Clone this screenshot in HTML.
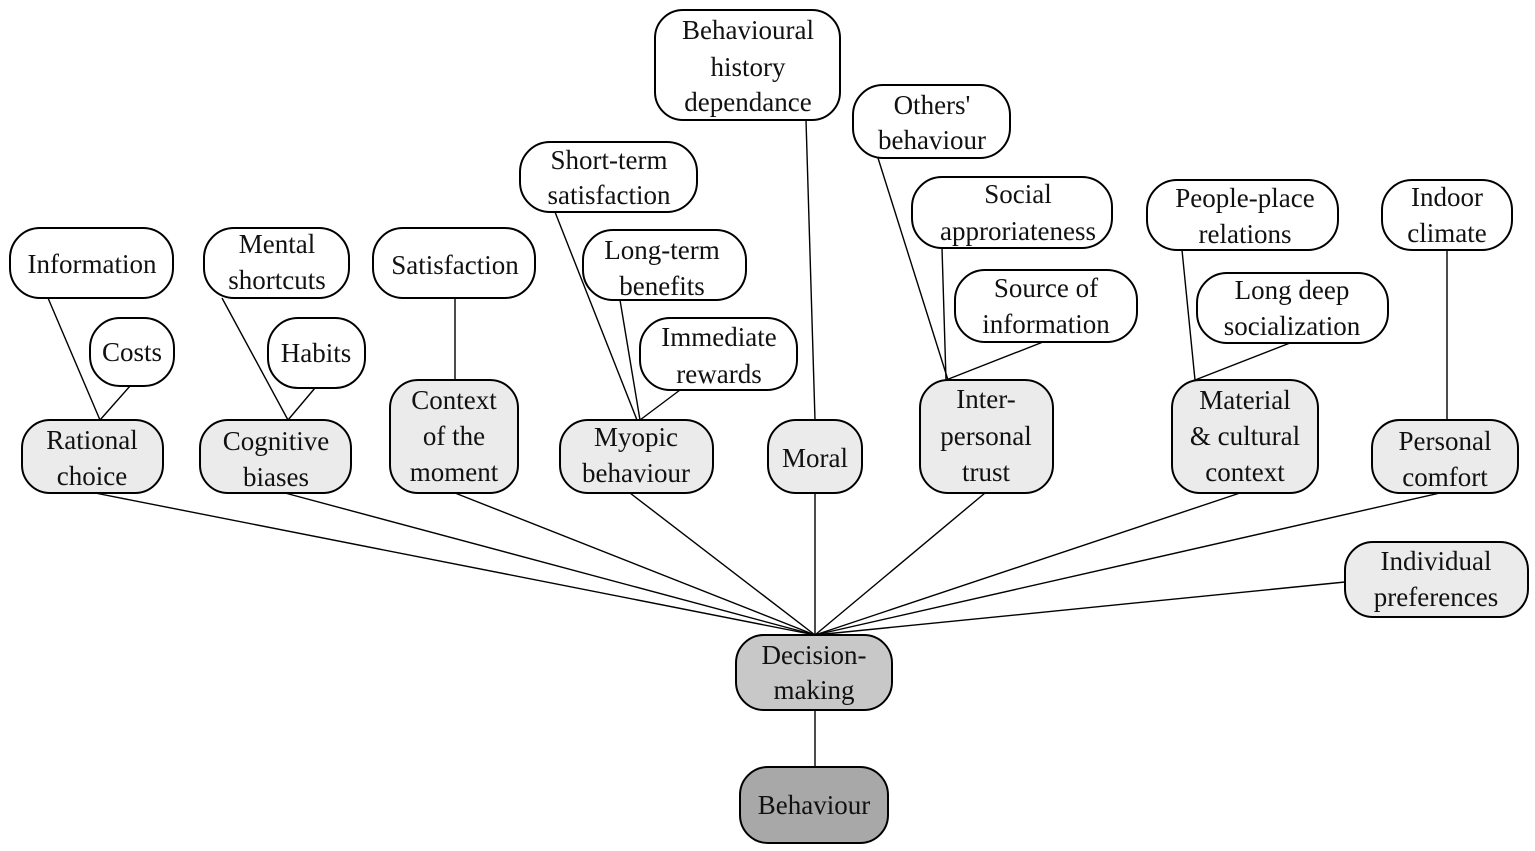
<!DOCTYPE html>
<html><head><meta charset="utf-8"><style>
html,body{margin:0;padding:0;background:#fff;}
svg{display:block;}
text{font-family:"Liberation Serif",serif;font-size:27px;fill:#111;text-anchor:middle;}
rect{stroke:#000;stroke-width:2;}
line{stroke:#000;stroke-width:1.4;}
</style></head><body>
<svg width="1535" height="851" viewBox="0 0 1535 851">
<g>
<line x1="48" y1="298" x2="100" y2="420"/><line x1="130" y1="386" x2="100" y2="420"/>
<line x1="222" y1="298" x2="288" y2="420"/><line x1="315" y1="388" x2="288" y2="420"/>
<line x1="455" y1="298" x2="455" y2="380"/>
<line x1="555" y1="212" x2="637" y2="420"/><line x1="620" y1="300" x2="640" y2="420"/><line x1="680" y1="390" x2="640" y2="420"/>
<line x1="806" y1="120" x2="815" y2="420"/>
<line x1="878" y1="158" x2="948" y2="380"/><line x1="942" y1="248" x2="946" y2="380"/><line x1="1043" y1="342" x2="946" y2="380"/>
<line x1="1182" y1="250" x2="1195" y2="380"/><line x1="1290" y1="343" x2="1195" y2="380"/>
<line x1="1447" y1="250" x2="1447" y2="420"/>
<line x1="95" y1="493" x2="815" y2="635"/>
<line x1="285" y1="493" x2="815" y2="635"/>
<line x1="455" y1="493" x2="815" y2="635"/>
<line x1="630" y1="493" x2="815" y2="635"/>
<line x1="815" y1="493" x2="815" y2="635"/>
<line x1="985" y1="493" x2="815" y2="635"/>
<line x1="1240" y1="493" x2="815" y2="635"/>
<line x1="1440" y1="493" x2="815" y2="635"/>
<line x1="1345" y1="582" x2="815" y2="635"/>
<line x1="815" y1="710" x2="815" y2="767"/>
</g>
<g fill="#fff">
<rect x="655" y="10" width="185" height="110" rx="28" fill="#fff"/>
<rect x="853" y="85" width="157" height="73" rx="30" fill="#fff"/>
<rect x="520" y="142" width="177" height="70" rx="30" fill="#fff"/>
<rect x="912" y="177" width="200" height="71" rx="30" fill="#fff"/>
<rect x="1147" y="180" width="191" height="70" rx="30" fill="#fff"/>
<rect x="1382" y="180" width="130" height="70" rx="30" fill="#fff"/>
<rect x="10" y="228" width="163" height="70" rx="30" fill="#fff"/>
<rect x="204" y="228" width="145" height="70" rx="30" fill="#fff"/>
<rect x="373" y="228" width="162" height="70" rx="30" fill="#fff"/>
<rect x="583" y="230" width="163" height="70" rx="30" fill="#fff"/>
<rect x="955" y="270" width="182" height="72" rx="30" fill="#fff"/>
<rect x="1197" y="273" width="191" height="70" rx="30" fill="#fff"/>
<rect x="90" y="318" width="84" height="68" rx="30" fill="#fff"/>
<rect x="268" y="318" width="97" height="70" rx="30" fill="#fff"/>
<rect x="640" y="318" width="157" height="72" rx="30" fill="#fff"/>
</g>
<g>
<rect x="22" y="420" width="141" height="73" rx="28" fill="#ebebeb"/>
<rect x="200" y="420" width="151" height="73" rx="28" fill="#ebebeb"/>
<rect x="390" y="380" width="128" height="113" rx="28" fill="#ebebeb"/>
<rect x="560" y="420" width="153" height="73" rx="28" fill="#ebebeb"/>
<rect x="768" y="420" width="94" height="73" rx="28" fill="#ebebeb"/>
<rect x="920" y="380" width="133" height="113" rx="28" fill="#ebebeb"/>
<rect x="1172" y="380" width="146" height="113" rx="28" fill="#ebebeb"/>
<rect x="1372" y="420" width="146" height="73" rx="28" fill="#ebebeb"/>
<rect x="1345" y="542" width="183" height="75" rx="28" fill="#ebebeb"/>
<rect x="736" y="635" width="156" height="75" rx="28" fill="#c8c8c8"/>
<rect x="740" y="767" width="148" height="76" rx="28" fill="#a8a8a8"/>
</g>
<g>
<text x="748" y="39">Behavioural</text><text x="748" y="76">history</text><text x="748" y="111">dependance</text>
<text x="932" y="114">Others'</text><text x="932" y="149">behaviour</text>
<text x="609" y="169">Short-term</text><text x="609" y="204">satisfaction</text>
<text x="1018" y="203">Social</text><text x="1018" y="240">approriateness</text>
<text x="1245" y="207">People-place</text><text x="1245" y="243">relations</text>
<text x="1447" y="206">Indoor</text><text x="1447" y="242">climate</text>
<text x="92" y="273">Information</text>
<text x="277" y="253">Mental</text><text x="277" y="289">shortcuts</text>
<text x="455" y="274">Satisfaction</text>
<text x="662" y="259">Long-term</text><text x="662" y="295">benefits</text>
<text x="1046" y="297">Source of</text><text x="1046" y="333">information</text>
<text x="1292" y="299">Long deep</text><text x="1292" y="335">socialization</text>
<text x="132" y="361">Costs</text>
<text x="316" y="362">Habits</text>
<text x="719" y="346">Immediate</text><text x="719" y="383">rewards</text>
<text x="92" y="449">Rational</text><text x="92" y="485">choice</text>
<text x="276" y="450">Cognitive</text><text x="276" y="486">biases</text>
<text x="454" y="409">Context</text><text x="454" y="445">of the</text><text x="454" y="481">moment</text>
<text x="636" y="446">Myopic</text><text x="636" y="482">behaviour</text>
<text x="815" y="467">Moral</text>
<text x="986" y="408">Inter-</text><text x="986" y="445">personal</text><text x="986" y="481">trust</text>
<text x="1245" y="409">Material</text><text x="1245" y="445">&amp; cultural</text><text x="1245" y="481">context</text>
<text x="1445" y="450">Personal</text><text x="1445" y="486">comfort</text>
<text x="1436" y="570">Individual</text><text x="1436" y="606">preferences</text>
<text x="814" y="664">Decision-</text><text x="814" y="699">making</text>
<text x="814" y="814">Behaviour</text>
</g>
</svg>
</body></html>
